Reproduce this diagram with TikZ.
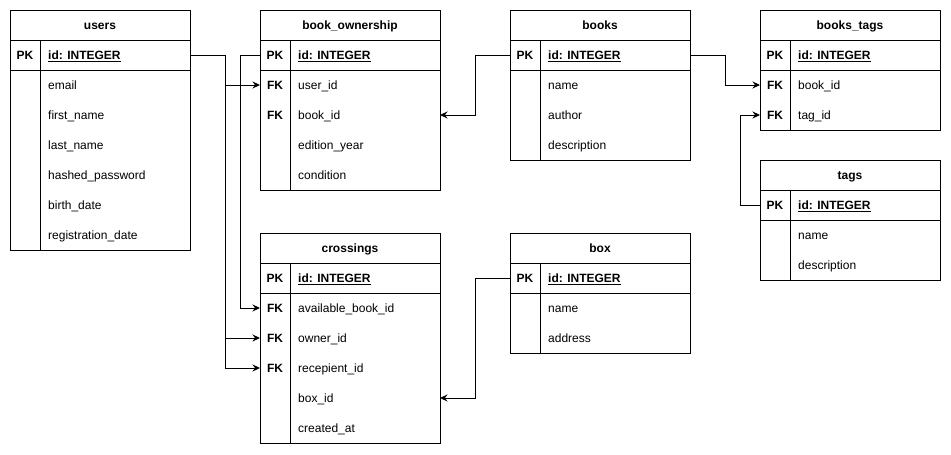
\documentclass[tikz,border=0pt]{standalone}
\usepackage{fontspec}
\setmainfont{Liberation Sans}
\usetikzlibrary{arrows.meta,positioning}

\tikzset{
  tbl/.style={draw,line width=1pt,minimum width=180pt,anchor=north west,inner sep=0pt,outer sep=0pt},
  rule/.style={line width=1pt},
  head/.style={font=\fontsize{12}{14}\selectfont\bfseries,inner sep=0pt,text height=10pt,text depth=1.4pt},
  key/.style={head},
  field/.style={anchor=west,inner sep=0pt,text height=10pt,text depth=1.4pt},
  pkfield/.style={field,font=\fontsize{12}{14}\selectfont\bfseries},
  fk/.style={line width=1pt,-{Stealth[length=7.5pt,width=7pt,inset=2.5pt]}},
}

\begin{document}
\begin{tikzpicture}[x=1pt,y=-1pt,font=\fontsize{12}{14}\selectfont]
\useasboundingbox (0,0) rectangle (951,455);
\coordinate (jUsers) at (225,0);
\coordinate (jOwn) at (240,0);
\coordinate (jBooks) at (475,0);
\coordinate (jTagsA) at (725,0);
\coordinate (jTagsB) at (740,0);
% users
\node[tbl,minimum height=240pt] (users) at (10,10) {};
\draw[rule] (10,40) -- (190,40) (10,70) -- (190,70) (40,40) -- (40,250);
\node[head] (users-title) at (100,25) {users};
\node[key] (users-pk) at (25,55) {PK};
\node[pkfield] (users-id) at (48,55) {\underline{id: INTEGER}};
\foreach \f [count=\i] in {email,first\_name,last\_name,hashed\_password,birth\_date,registration\_date}
  \node[field] (users-f\i) at (48,55+30*\i) {\f};
% book_ownership
\node[tbl,minimum height=180pt] (ownership) at (260,10) {};
\draw[rule] (260,40) -- (440,40) (260,70) -- (440,70) (290,40) -- (290,190);
\node[head] (ownership-title) at (350,25) {book\_ownership};
\node[key] (ownership-pk) at (275,55) {PK};
\node[key] (ownership-k1) at (275,85) {FK};
\node[key] (ownership-k2) at (275,115) {FK};
\node[pkfield] (ownership-id) at (298,55) {\underline{id: INTEGER}};
\foreach \f [count=\i] in {user\_id,book\_id,edition\_year,condition}
  \node[field] (ownership-f\i) at (298,55+30*\i) {\f};
% books
\node[tbl,minimum height=150pt] (books) at (510,10) {};
\draw[rule] (510,40) -- (690,40) (510,70) -- (690,70) (540,40) -- (540,160);
\node[head] (books-title) at (600,25) {books};
\node[key] (books-pk) at (525,55) {PK};
\node[pkfield] (books-id) at (548,55) {\underline{id: INTEGER}};
\foreach \f [count=\i] in {name,author,description}
  \node[field] (books-f\i) at (548,55+30*\i) {\f};
% books_tags
\node[tbl,minimum height=120pt] (btags) at (760,10) {};
\draw[rule] (760,40) -- (940,40) (760,70) -- (940,70) (790,40) -- (790,130);
\node[head] (btags-title) at (850,25) {books\_tags};
\node[key] (btags-pk) at (775,55) {PK};
\node[key] (btags-k1) at (775,85) {FK};
\node[key] (btags-k2) at (775,115) {FK};
\node[pkfield] (btags-id) at (798,55) {\underline{id: INTEGER}};
\foreach \f [count=\i] in {book\_id,tag\_id}
  \node[field] (btags-f\i) at (798,55+30*\i) {\f};
% tags
\node[tbl,minimum height=120pt] (tags) at (760,160) {};
\draw[rule] (760,190) -- (940,190) (760,220) -- (940,220) (790,190) -- (790,280);
\node[head] (tags-title) at (850,175) {tags};
\node[key] (tags-pk) at (775,205) {PK};
\node[pkfield] (tags-id) at (798,205) {\underline{id: INTEGER}};
\foreach \f [count=\i] in {name,description}
  \node[field] (tags-f\i) at (798,205+30*\i) {\f};
% crossings
\node[tbl,minimum height=210pt] (crossings) at (260,233) {};
\draw[rule] (260,263) -- (440,263) (260,293) -- (440,293) (290,263) -- (290,443);
\node[head] (crossings-title) at (350,248) {crossings};
\node[key] (crossings-pk) at (275,278) {PK};
\node[key] (crossings-k1) at (275,308) {FK};
\node[key] (crossings-k2) at (275,338) {FK};
\node[key] (crossings-k3) at (275,368) {FK};
\node[pkfield] (crossings-id) at (298,278) {\underline{id: INTEGER}};
\foreach \f [count=\i] in {available\_book\_id,owner\_id,recepient\_id,box\_id,created\_at}
  \node[field] (crossings-f\i) at (298,278+30*\i) {\f};
% box
\node[tbl,minimum height=120pt] (box) at (510,233) {};
\draw[rule] (510,263) -- (690,263) (510,293) -- (690,293) (540,263) -- (540,353);
\node[head] (box-title) at (600,248) {box};
\node[key] (box-pk) at (525,278) {PK};
\node[pkfield] (box-id) at (548,278) {\underline{id: INTEGER}};
\foreach \f [count=\i] in {name,address}
  \node[field] (box-f\i) at (548,278+30*\i) {\f};
% relations
\draw[fk] (users.east |- users-id) -- (jUsers |- users-id) |- (ownership.west |- ownership-f1);
\draw[fk] (users.east |- users-id) -- (jUsers |- users-id) |- (crossings.west |- crossings-f2);
\draw[fk] (users.east |- users-id) -- (jUsers |- users-id) |- (crossings.west |- crossings-f3);
\draw[fk] (ownership.west |- ownership-id) -- (jOwn |- ownership-id) |- (crossings.west |- crossings-f1);
\draw[fk] (books.west |- books-id) -- (jBooks |- books-id) |- (ownership.east |- ownership-f2);
\draw[fk] (box.west |- box-id) -- (jBooks |- box-id) |- (crossings.east |- crossings-f4);
\draw[fk] (books.east |- books-id) -- (jTagsA |- books-id) |- (btags.west |- btags-f1);
\draw[fk] (tags.west |- tags-id) -- (jTagsB |- tags-id) |- (btags.west |- btags-f2);
\end{tikzpicture}
\end{document}
